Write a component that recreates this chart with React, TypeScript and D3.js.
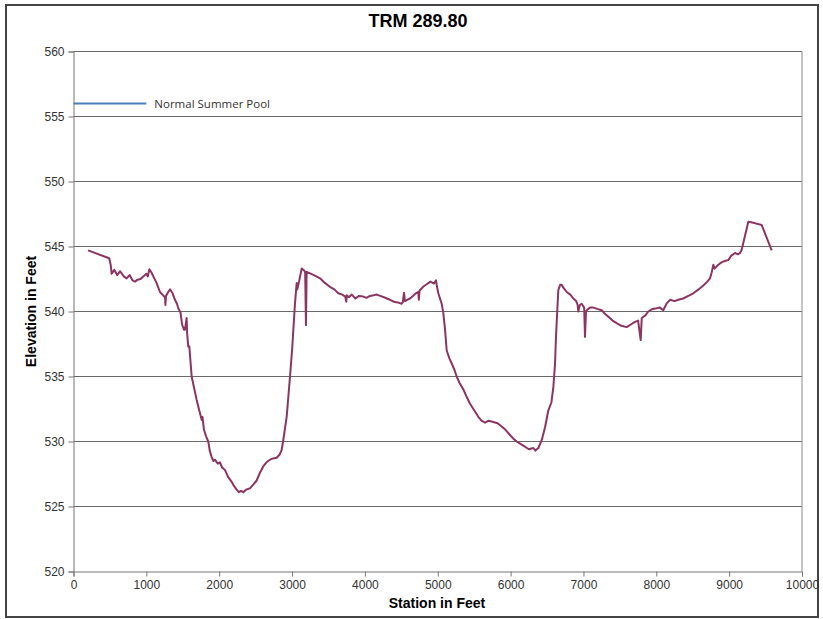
import React, { useRef, useEffect } from "react"
import * as d3 from "d3"

// station (ft) and bottom elevation (ft)
const station = [200, 490, 510, 524, 560, 600, 640, 690, 730, 770, 810, 844, 880, 920, 958, 1000, 1020, 1041, 1070, 1096,
  1140, 1187, 1220, 1256, 1262, 1270, 1300, 1325, 1360, 1393, 1420, 1439, 1470, 1490, 1517, 1530, 1553, 1560, 1576, 1590,
  1622, 1660, 1691, 1730, 1760, 1770, 1791, 1820, 1850, 1870, 1897, 1920, 1942, 1980, 2011, 2040, 2080, 2120, 2171, 2200,
  2240, 2270, 2300, 2331, 2370, 2423, 2470, 2514, 2560, 2606, 2650, 2697, 2740, 2789, 2830, 2858, 2890, 2926, 2950, 2972,
  3000, 3018, 3040, 3064, 3072, 3100, 3132, 3168, 3180, 3191, 3200, 3240, 3300, 3384, 3450, 3520, 3580, 3635, 3690, 3730,
  3745, 3750, 3780, 3820, 3870, 3920, 3978, 4020, 4070, 4120, 4162, 4210, 4260, 4300, 4345, 4400, 4450, 4505, 4520, 4537,
  4550, 4580, 4619, 4660, 4700, 4733, 4740, 4750, 4800, 4848, 4900, 4949, 4976, 4990, 5008, 5054, 5077, 5100, 5123, 5160,
  5192, 5230, 5260, 5300, 5352, 5400, 5443, 5500, 5557, 5600, 5649, 5700, 5763, 5820, 5878, 5930, 5992, 6040, 6084, 6140,
  6198, 6250, 6312, 6340, 6381, 6427, 6473, 6518, 6560, 6587, 6610, 6623, 6640, 6655, 6680, 6701, 6730, 6770, 6820, 6861,
  6900, 6920, 6930, 6950, 6976, 7010, 7021, 7035, 7045, 7090, 7136, 7190, 7251, 7300, 7342, 7400, 7456, 7520, 7593, 7650,
  7707, 7750, 7786, 7800, 7850, 7890, 7950, 8005, 8050, 8096, 8140, 8188, 8250, 8302, 8371, 8440, 8508, 8580, 8645, 8700,
  8737, 8760, 8783, 8800, 8851, 8900, 8950, 8988, 9030, 9080, 9120, 9149, 9172, 9263, 9350, 9447, 9584]
const elevation = [544.7, 544.1, 543.6, 542.9, 543.2, 542.8, 543.1, 542.7, 542.55, 542.8, 542.4, 542.3, 542.45, 542.5, 542.7, 542.9, 542.7, 543.25, 543.0, 542.7,
  542.2, 541.5, 541.3, 541.1, 540.5, 541.2, 541.5, 541.7, 541.4, 540.9, 540.6, 540.25, 539.9, 539.0, 538.6, 538.6, 539.5, 538.3, 537.3, 537.3,
  535.0, 534.0, 533.2, 532.3, 531.65, 531.9, 530.9, 530.4, 530.0, 529.3, 528.8, 528.5, 528.6, 528.3, 528.4, 528.0, 527.8, 527.3, 526.9, 526.6,
  526.3, 526.1, 526.2, 526.1, 526.3, 526.4, 526.7, 527.0, 527.6, 528.1, 528.4, 528.6, 528.7, 528.75, 529.0, 529.35, 530.5, 531.9, 533.5, 535.0,
  537.0, 538.6, 540.6, 542.2, 541.7, 542.4, 543.3, 543.15, 543.0, 538.95, 543.05, 542.95, 542.8, 542.55, 542.2, 541.9, 541.7, 541.4, 541.3, 541.15,
  540.75, 541.25, 541.1, 541.3, 541.0, 541.2, 541.15, 541.05, 541.2, 541.25, 541.3, 541.2, 541.1, 541.0, 540.9, 540.75, 540.7, 540.6, 540.7, 541.45,
  540.8, 540.9, 541.0, 541.2, 541.4, 541.5, 540.9, 541.6, 541.9, 542.1, 542.3, 542.15, 542.4, 541.9, 541.4, 540.6, 539.85, 538.6, 537.0, 536.4,
  536.0, 535.5, 535.0, 534.5, 534.0, 533.4, 532.9, 532.4, 531.9, 531.6, 531.45, 531.6, 531.5, 531.4, 531.15, 530.9, 530.5, 530.2, 530.0, 529.8,
  529.6, 529.4, 529.5, 529.3, 529.5, 530.1, 531.1, 532.4, 533.0, 534.2, 536.0, 538.05, 540.0, 541.65, 542.05, 542.05, 541.8, 541.5, 541.3, 541.0,
  540.8, 540.5, 540.0, 540.5, 540.6, 540.3, 538.05, 540.0, 540.1, 540.3, 540.3, 540.2, 540.1, 539.8, 539.6, 539.3, 539.1, 538.9, 538.8, 539.0,
  539.2, 539.3, 537.8, 539.5, 539.7, 540.0, 540.2, 540.25, 540.3, 540.1, 540.6, 540.9, 540.8, 540.9, 541.0, 541.2, 541.4, 541.7, 542.0, 542.3,
  542.55, 543.0, 543.6, 543.3, 543.6, 543.8, 543.9, 543.95, 544.3, 544.5, 544.4, 544.5, 544.75, 546.9, 546.8, 546.65, 544.7]

// normal summer pool marker
const poolStation = [0, 1000]
const poolElevation = [556, 556]
const poolLabel = "Normal Summer Pool"

const xTicks = [0, 1000, 2000, 3000, 4000, 5000, 6000, 7000, 8000, 9000, 10000]
const yTicks = [520, 525, 530, 535, 540, 545, 550, 555, 560]

const W = 823
const H = 619
const m = { left: 73.5, right: 802, top: 51.5, bottom: 571.5 }

const App = () => {
  const ref = useRef<SVGSVGElement>(null)

  useEffect(() => {
    const svg = d3.select(ref.current)
    svg.selectAll("*").remove()

    const x = d3.scaleLinear().domain([0, 10000]).range([m.left, m.right])
    const y = d3.scaleLinear().domain([520, 560]).range([m.bottom, m.top])

    // outer frame
    svg.append("rect")
      .attr("x", 6).attr("y", 5).attr("width", 812).attr("height", 612)
      .attr("fill", "white").attr("stroke", "#444").attr("stroke-width", 2)

    // gridlines
    svg.append("g").selectAll("line").data(yTicks.slice(1)).enter().append("line")
      .attr("x1", m.left).attr("x2", m.right)
      .attr("y1", d => y(d)).attr("y2", d => y(d))
      .attr("stroke", "#6a6a6a").attr("stroke-width", 1)

    // right border
    svg.append("line")
      .attr("x1", m.right).attr("x2", m.right).attr("y1", m.top).attr("y2", m.bottom)
      .attr("stroke", "#8a8a8a")

    const font = "'Liberation Sans', Arial, sans-serif"

    const yAxis = svg.append("g")
      .attr("transform", `translate(${m.left},0)`)
      .call(d3.axisLeft(y).tickValues(yTicks).tickSize(5).tickPadding(4).tickFormat(d3.format("d")))
    const xAxis = svg.append("g")
      .attr("transform", `translate(0,${m.bottom})`)
      .call(d3.axisBottom(x).tickValues(xTicks).tickSize(5).tickPadding(4).tickFormat(d3.format("d")))
    ;[xAxis, yAxis].forEach(a => {
      a.select(".domain").attr("stroke", "#777")
      a.selectAll(".tick line").attr("stroke", "#777")
      a.selectAll(".tick text").attr("fill", "#333").style("font-family", font).style("font-size", "12px")
    })

    // pool line
    const pool = d3.line<number>().x((d, i) => x(poolStation[i])).y(d => y(d))
    svg.append("path").datum(poolElevation)
      .attr("d", pool).attr("fill", "none").attr("stroke", "#4a7ebb").attr("stroke-width", 2)
    svg.append("text")
      .attr("x", x(poolStation[1]) + 8).attr("y", y(poolElevation[1]) + 4.5)
      .attr("fill", "#333").style("font-family", "'Open Sans', 'Liberation Sans', sans-serif").style("font-size", "11.5px")
      .text(poolLabel)

    // profile
    const line = d3.line<number>().x((d, i) => x(station[i])).y(d => y(d))
    svg.append("path").datum(elevation)
      .attr("d", line).attr("fill", "none").attr("stroke", "#8e3463")
      .attr("stroke-width", 2).attr("stroke-linejoin", "round")

    // titles
    svg.append("text").attr("x", 418).attr("y", 26.5).attr("text-anchor", "middle")
      .style("font-family", font).style("font-weight", "bold").style("font-size", "18px")
      .text("TRM 289.80")
    svg.append("text").attr("x", 437).attr("y", 608).attr("text-anchor", "middle")
      .style("font-family", font).style("font-weight", "bold").style("font-size", "14px")
      .text("Station in Feet")
    svg.append("text")
      .attr("transform", `translate(36,${(m.top + m.bottom) / 2}) rotate(-90)`)
      .attr("text-anchor", "middle")
      .style("font-family", font).style("font-weight", "bold").style("font-size", "14px")
      .text("Elevation in Feet")
  }, [])

  return (
    <svg ref={ref} width={W} height={H} style={{ position: "absolute", left: 0, top: 0 }} />
  )
}

export default App
